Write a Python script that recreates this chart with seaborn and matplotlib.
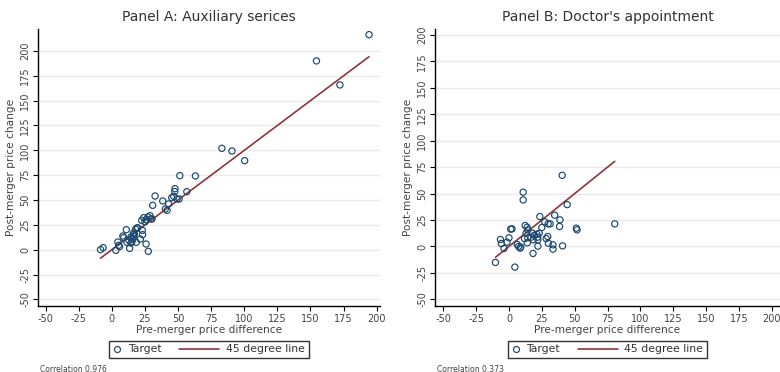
import numpy as np
import pandas as pd
import matplotlib
matplotlib.use("Agg")
import matplotlib.pyplot as plt
import seaborn as sns
from matplotlib.lines import Line2D
from matplotlib.legend_handler import HandlerLine2D

# ---- data ----
a_x = [-8.6, -6.6, 3.0, 4.5, 5.1, 5.8, 8.3, 8.8, 10.9, 11.4, 12.9, 13.4, 14.4, 14.4,
       15.2, 15.9, 16.4, 16.4, 17.0, 17.9, 18.4, 18.9, 19.5, 21.5, 22.5, 23.0, 23.2,
       24.0, 25.0, 25.8, 25.8, 27.3, 27.5, 28.8, 29.5, 30.3, 30.8, 32.6, 38.4, 40.4,
       41.7, 42.9, 45.2, 46.7, 47.5, 47.7, 49.2, 50.8, 51.3, 56.6, 63.1, 83.1, 90.7,
       100.3, 154.5, 172.2, 194.2]
a_y = [0.0, 2.0, -0.7, 7.7, 4.4, 3.0, 13.8, 12.1, 20.1, 7.4, 9.4, 1.3, 12.8, 6.7,
       8.4, 10.7, 16.8, 13.4, 15.5, 20.5, 7.4, 21.8, 22.0, 10.7, 29.5, 19.5, 15.1,
       32.2, 28.0, 30.2, 5.7, 32.9, -1.7, 34.2, 31.0, 30.9, 44.6, 54.0, 49.0, 41.0,
       39.6, 46.0, 52.3, 53.7, 58.5, 61.4, 51.0, 51.0, 74.5, 58.4, 74.2, 102.0, 99.3,
       89.6, 190.0, 165.8, 216.4]

b_x = [-10.3, 4.5, -6.5, -5.8, -3.8, -1.5, 0.0, 1.3, 2.3, 6.3, 7.3, 8.5, 9.0, 10.8,
       10.8, 12.3, 13.8, 14.3, 13.0, 11.8, 14.3, 14.0, 16.8, 18.0, 19.3, 18.5, 18.3,
       21.8, 21.3, 23.0, 22.0, 22.0, 23.5, 25.0, 27.3, 29.8, 31.3, 28.3, 29.5, 30.0,
       33.5, 33.5, 34.8, 38.8, 38.5, 40.5, 44.3, 40.8, 51.3, 51.8, 80.5]
b_y = [-15.1, -19.5, 6.6, 2.8, -1.9, 4.1, 8.2, 16.4, 16.7, 1.9, 0.0, -1.6, -0.5, 51.3,
       44.0, 19.8, 18.2, 15.7, 12.6, 7.5, 8.2, 3.5, 8.8, 12.6, 10.7, 6.3, -6.6,
       8.8, 11.6, 12.6, 0.3, 6.3, 28.3, 17.9, 23.3, 21.4, 21.4, 7.5, 9.4, 3.1,
       1.6, -2.5, 29.6, 25.2, 18.9, 67.3, 39.6, 0.6, 17.3, 15.7, 21.4]

titles = ["Panel A: Auxiliary serices", "Panel B: Doctor's appointment"]
corr_labels = ["Correlation 0.976", "Correlation 0.373"]
ticks = [-50, -25, 0, 25, 50, 75, 100, 125, 150, 175, 200]
legend_labels = ["Target", "45 degree line"]

NAVY = "#1a476f"
MAROON = "#90353b"
GRID = "#eaeaea"

sns.set_style("white")
plt.rcParams["font.family"] = ["DejaVu Sans"]


class LongLeftLine(HandlerLine2D):
    def __init__(self, extra, **kw):
        super().__init__(**kw)
        self.extra = extra

    def get_xdata(self, legend, xdescent, ydescent, width, height, fontsize):
        xdata = np.array([-xdescent - self.extra, -xdescent + width])
        return xdata, np.array([-xdescent + 0.5 * width])


fig = plt.figure(figsize=(7.8, 3.72), dpi=100)
W, H = 780.0, 372.0
axA = fig.add_axes([38 / W, 1 - 306 / H, (380 - 38) / W, (306 - 29.3) / H])
axB = fig.add_axes([435 / W, 1 - 306 / H, (780 - 435) / W, (306 - 29.3) / H])

panels = [
    (axA, a_x, a_y, (-55.8, 202.5), (-56.7, 221.8)),
    (axB, b_x, b_y, (-56.3, 206.3), (-56.3, 205.4)),
]

for i, (ax, x, y, xl, yl) in enumerate(panels):
    df = pd.DataFrame({"x": x, "y": y})
    lx = [min(x), max(x)]
    ax.set_axisbelow(True)
    ax.yaxis.grid(True, color=GRID, lw=1.0)
    ax.xaxis.grid(False)
    sns.lineplot(x=lx, y=lx, color=MAROON, lw=1.2, ax=ax, zorder=2)
    sns.scatterplot(data=df, x="x", y="y", marker="o", s=20, facecolor="none",
                    edgecolor=NAVY, linewidth=0.85, ax=ax, zorder=3)
    ax.set_xlim(*xl)
    ax.set_ylim(*yl)
    ax.set_xticks(ticks)
    ax.set_yticks(ticks)
    ax.set_xticklabels([str(t) for t in ticks], fontsize=7, color="#444444")
    ax.set_yticklabels([str(t) for t in ticks], fontsize=7, color="#444444",
                       rotation=90, va="center")
    ax.tick_params(axis="both", length=3.5, width=0.8, color="black", pad=2,
                   direction="out", bottom=True, left=True)
    for s in ["top", "right"]:
        ax.spines[s].set_visible(False)
    for s in ["left", "bottom"]:
        ax.spines[s].set_color("black")
        ax.spines[s].set_linewidth(1.0)
    ax.set_xlabel("Pre-merger price difference", fontsize=7.6, color="#444444",
                  labelpad=1)
    ax.set_ylabel("Post-merger price change", fontsize=7.6, color="#444444",
                  labelpad=3)
    ax.set_title(titles[i], fontsize=10, color="#333333", pad=6)

    h_pt = Line2D([], [], marker="o", ls="none", mfc="none", mec=NAVY, ms=4.3,
                  mew=0.85)
    h_ln = Line2D([], [], color=MAROON, lw=1.2)
    leg = ax.legend([h_pt, h_ln], legend_labels, loc="upper center",
                    bbox_to_anchor=(0.5, -0.125), ncol=2, frameon=True,
                    fancybox=False, edgecolor="black", handlelength=0.75,
                    handletextpad=0.6, columnspacing=4.6, borderpad=0.35,
                    fontsize=7.8, borderaxespad=0,
                    handler_map={h_ln: LongLeftLine(extra=23)})
    leg.get_frame().set_linewidth(1.0)
    for t in leg.get_texts():
        t.set_color("#333333")

fig.text(40 / W, 1 - 369 / H, corr_labels[0], fontsize=5.5, color="#444444",
         va="center", ha="left")
fig.text(437 / W, 1 - 369 / H, corr_labels[1], fontsize=5.5, color="#444444",
         va="center", ha="left")

fig.savefig("out.png", dpi=100)
